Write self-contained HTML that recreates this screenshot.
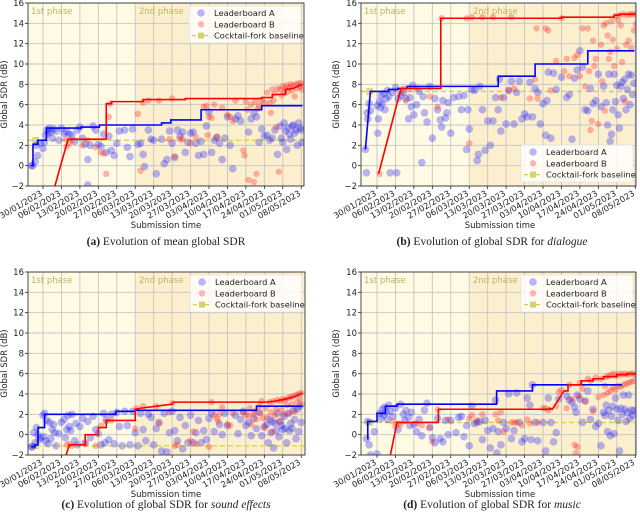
<!DOCTYPE html>
<html><head><meta charset="utf-8"><style>
body{margin:0;background:#fff;}
svg text{font-family:"DejaVu Sans","Liberation Sans",sans-serif;}
.cap{font-family:"Liberation Serif",serif;font-size:11.5px;}
</style></head><body>
<svg id="fig" width="640" height="518" viewBox="0 0 640 518" xmlns="http://www.w3.org/2000/svg"></svg>
<script>
const tickLabels=["30/01/2023","06/02/2023","13/02/2023","20/02/2023","27/02/2023","06/03/2023","13/03/2023","20/03/2023","27/03/2023","03/04/2023","10/04/2023","17/04/2023","24/04/2023","01/05/2023","08/05/2023"];
const tickDays=[0,7,14,21,28,35,42,49,56,63,70,77,84,91,98];
const yTicks=[-2,0,2,4,6,8,10,12,14,16];
const phaseBoundary=35.3;

const aBlueStep=[[-4.5,0],[-3.8,0],[-3.8,2.1],[-2,2.1],[-2,2.5],[1.3,2.5],[1.3,3.7],[14.5,3.7],[14.5,3.8],[21.4,3.8],[21.4,4.0],[45,4.0],[45,4.2],[48.5,4.2],[48.5,4.5],[60,4.5],[60,5.5],[83,5.5],[83,5.9],[98.5,5.9]];
const aRedStep=[[4.3,-2.2],[9.5,2.6],[24,2.6],[24,6.1],[26,6.1],[26,6.3],[38,6.3],[38,6.5],[54,6.5],[54,6.6],[83,6.6],[83,6.7],[87,6.7],[87,7.0],[92,7.0],[92,7.5],[95,7.6],[98.5,8.0]];
const aBlue=[[-4.3,0],[-3.9,0],[-3,0.4],[-2.5,2],[-2,1],[-1,2.2],[0,1.7],[0.5,2.3],[1,3],[1.5,3.5],[2,3.2],[2.5,3.7],[3,3.3],[3.5,2.7],[4,3.6],[5,3.4],[6,2.5],[7,3.7],[8,3.2],[9,3.3],[10,3.1],[11,3],[12,2.4],[13,3.5],[14,3.8],[15,2.7],[16,2.1],[17,0.6],[18,2],[19,3.9],[20,3.5],[21,2.1],[22,1.9],[23,3.1],[24,1.3],[25,2.9],[26,1.5],[27,1],[28,2.2],[29,3.4],[31,3.5],[32,1.8],[33,0.9],[34,3.6],[36,2.1],[37,2.2],[38,1.1],[38.5,-0.1],[40,3.5],[41,2.6],[42,2.5],[43,-0.8],[45,2.6],[46,0.2],[47,0.6],[48,3.4],[49,2.2],[50,0.8],[51,3.5],[52,2.9],[53,3.3],[54,1.3],[55,2.3],[56,3.2],[57,3.3],[58,2.2],[59,1.0],[60,2.4],[61,1.1],[62,3.9],[63,5.3],[64,1.3],[65,2.5],[66,2.8],[67,2.2],[68,0.6],[69,2.7],[70,4.8],[71,2.0],[72,-0.3],[73,4.6],[74,4.9],[75,4.4],[78,3.3],[79,4.6],[80,5.2],[81,4.8],[82,2.3],[83,3.6],[84,2.9],[85,3.0],[86,2.5],[87,2.7],[88,3.5],[89,1.1],[90,3.9],[90.5,2.7],[91,2.3],[91.5,4.2],[92,3.4],[92.5,1.6],[93,3.7],[93.5,3.1],[94,2.6],[94.5,3.9],[95,4.0],[95.5,3.2],[96,3.5],[96.5,2.0],[97,4.2],[97.5,3.7],[98,3.5],[98.3,2.3],[17,-1.9]];
const aRed=[[8.5,2.6],[9,1.9],[10,2.2],[11,2.5],[15,2.0],[17,2.5],[20,1.8],[22,1.3],[23,1.2],[24,-0.8],[25,4.8],[25.5,6.1],[36,5.1],[37,-0.5],[38,6.2],[40,6.4],[44,6.4],[48,2.6],[49,6.6],[50,0.9],[52,2.6],[53,2.6],[56,2.2],[58,2.8],[61,5.8],[62,5.9],[62.5,3],[63,4.8],[64,4.7],[65,6.0],[66,2.8],[68,5.7],[70,5.0],[71,4.8],[72,4.4],[73,6.4],[76,1.5],[76.5,1.0],[77,6.3],[77.5,5.5],[78,-1.4],[79,6.0],[80,-1.6],[80.5,6.3],[81,-0.8],[81.5,5.6],[82,5.9],[83,6.4],[84,6.2],[85,7.2],[86,6.2],[86.5,5.2],[87,7.5],[87.5,6.4],[88,7.1],[88.5,3.8],[89,7.6],[89.5,-0.6],[90,7.5],[90.5,6.9],[91,7.8],[91.5,7.2],[92,7.6],[92.5,7.9],[93,7.3],[93.5,7.7],[94,8.0],[94.5,7.4],[95,7.9],[95.5,6.8],[96,8.0],[96.5,7.6],[97,8.1],[97.5,7.8],[98,8.1],[98.3,7.5]];
const aBaseline=2.5;

const bBlueStep=[[-4.4,1.6],[-2.5,7.3],[4.4,7.3],[4.4,7.5],[8,7.5],[8,7.6],[11.4,7.6],[11.4,7.8],[46,7.8],[46,8.8],[60,8.8],[60,10.0],[80,10.0],[80,11.3],[97.7,11.3]];
const bRedStep=[[0.6,-0.8],[8.8,7.3],[9,7.6],[24.2,7.6],[24.2,14.5],[70,14.5],[70,14.6],[90,14.6],[90,14.8],[92,14.8],[92,14.9],[98,14.9]];
const bBlue=[[-4.4,1.6],[-4,-0.7],[-3.8,5.2],[-3.5,4.6],[-3,6.1],[-2.5,5.4],[0,5.9],[0.3,3.2],[0.5,4.6],[1,6.3],[1.3,5.7],[1.6,6.9],[2,6.1],[2.5,7.1],[3,5.5],[3.5,6.6],[4,7.4],[4.5,6.8],[5,-0.7],[6,7.2],[7,7.7],[7.5,-0.7],[8,6.6],[9,6.9],[10,7.2],[11,6.6],[12,4.6],[12.5,6.7],[13,5.8],[13.5,7.9],[14,5],[15,6],[16,7.3],[17,0.3],[17.5,6.8],[18,5.2],[19,4.3],[20,7.8],[21,2.7],[22,6.6],[23,5.5],[24,4.5],[24.5,3.8],[25,6.4],[26,4.7],[26.5,5.2],[27,6.2],[28,3.2],[29,6.7],[31,6.8],[32,5.5],[33,6.9],[34,1.6],[34.5,5.5],[35,3.6],[36,7.5],[37,7.4],[38,0.5],[38.5,1.1],[39,7.8],[40,5.5],[41,1.5],[42,4.4],[43,2],[44,4.4],[45,6.7],[46,5.5],[46.5,8.5],[47,3.4],[48,6.7],[49,4.1],[50,7.4],[51,8.3],[52,4.1],[53,7.2],[54,8.3],[55,4.6],[56,5.1],[57,4.8],[58,8.2],[59,4.8],[60,7.6],[61,7.2],[62,4.1],[63,6.1],[64,3],[64.5,6.4],[65,9.2],[66,2.7],[67,9.1],[68,7.5],[70,8.7],[72,6.7],[73,7.0],[74,2.6],[75,8.6],[76,9.4],[77,11.3],[78,9.7],[79,5.5],[80,5.4],[81,7.6],[82,6.1],[83,6.4],[84,9],[85,5.8],[86,7.8],[87,6.2],[87.5,4],[88,9],[88.5,2.4],[89,3.1],[89.5,5.5],[90,9],[90.5,6.3],[91,7.9],[91.5,5],[92,3.7],[92.5,7.8],[93,8.2],[93.5,6.6],[94,8.5],[94.5,5.5],[95,7.5],[95.5,9],[96,6],[96.5,8.9],[97,7],[97.5,8.1]];
const bRed=[[1,-0.8],[9,7.2],[10,7.6],[11,6.4],[12,7.5],[15,7.6],[20,6.8],[23,5.8],[24.5,14.5],[34,14.5],[35,2.2],[36,14.6],[40,14.6],[44,14.6],[47,6.7],[50,7.4],[51,14.6],[52,7.6],[58,6.6],[60,8.5],[60.5,13.5],[61,6.6],[64,13.5],[65,13.3],[66,7.4],[68,10.3],[70,14.5],[71,9.3],[72,10.5],[73,8.8],[75,10.6],[76,10.9],[77,8.8],[78,13.5],[79,7.8],[80,13.5],[80.5,9.3],[81,3.5],[81.5,4.4],[82,12.3],[82.5,9.8],[83,10.5],[84,4.1],[85,11.9],[85.5,8.3],[86,13.8],[86.5,5.4],[87,14.0],[87.5,12.8],[88,10.5],[88.5,11.2],[89,14.2],[89.5,12.4],[90,9.8],[90.5,14.7],[91,11.5],[91.5,14.3],[92,14.8],[92.5,13.8],[93,10.2],[93.5,14.9],[94,6.3],[94.5,11.9],[95,14.8],[95.5,12.3],[96,14.9],[96.5,11.6],[97,14.9],[97.5,13.3],[98,14.9],[98.2,13.9]];
const bBaseline=7.3;

const cBlueStep=[[-4.5,-1.2],[-3,-1.2],[-3,-1.0],[-1.9,-1.0],[-1.9,0.7],[0.6,0.7],[0.6,2.0],[27.7,2.0],[27.7,2.3],[35,2.3],[35,2.4],[81,2.4],[81,2.8],[98.5,2.8]];
const cRedStep=[[8.5,-2.2],[10,-1],[16,-1],[16,0],[21,0],[21,0.7],[24,0.7],[24,1.4],[35,1.4],[35,2.5],[37,2.6],[43,2.8],[49,3.0],[49.5,3.2],[85,3.2],[88,3.3],[92,3.5],[95,3.7],[98.5,4.1]];
const cBlue=[[-4.5,-1.2],[-4,-1.2],[-3.5,0.2],[-3,-0.8],[-2.5,0.7],[-2,0],[-1.5,-0.5],[-1,-0.3],[0,1.9],[0.3,-0.2],[0.6,2.1],[1,-0.6],[1.5,1.4],[2,-0.9],[2.5,1.2],[3,-0.4],[3.5,0.5],[4,1],[4.5,0.2],[5,-1.1],[6,0.1],[7,1.2],[8,1.5],[8.5,-0.3],[9,0.5],[9.5,1.9],[10,0.8],[10.5,0.4],[11,2],[12,-0.6],[12.5,1.1],[13,-1],[14,0.8],[15,1.6],[16,-0.8],[17,1.3],[18,-0.3],[19,1.8],[20,0.5],[21,0.1],[22,-1.0],[23,2.1],[23.5,-0.8],[24,1.5],[25,-0.5],[26,2.0],[27,-0.9],[28,2.2],[29,0.8],[30,-1.1],[31,2.3],[32,0.9],[33,-1.0],[34,2.3],[35,0.2],[36,-1.1],[37,2.1],[38,0.5],[39,-0.6],[40,2.0],[41,1.7],[42,-1.0],[43,0.6],[44,1.2],[45,-1.6],[46,2.1],[47,-1.7],[48,0.2],[49,2.3],[50,0.4],[51,-0.6],[52,1.7],[53,-1.4],[54,0.9],[55,-0.8],[56,1.9],[57,-0.8],[58,0.2],[59,1.4],[60,-0.8],[61,0.4],[62,-0.5],[63,1.6],[64,2.1],[65,0.3],[67,1.0],[68,0.0],[69,2.1],[70,0.9],[73,1.9],[74,0.1],[75,1.5],[76,2.3],[77,0.9],[78,1.2],[79,-0.1],[80,1.6],[81,0.6],[82,2.2],[83,-0.1],[84,0.8],[85,1.0],[85.5,-0.8],[86,1.5],[86.5,0.2],[87,1.3],[87.5,-1.3],[88,1.1],[88.5,0.4],[89,2.1],[89.5,-0.2],[90,1.3],[90.5,0.9],[91,0.5],[91.5,1.8],[92,0.6],[92.5,-0.8],[93,2.1],[93.5,0.4],[94,1.1],[94.5,0.6],[95,2.4],[95.5,1.5],[96,-0.4],[96.5,2.5],[97,0.3],[97.5,2.8],[98,1.2]];
const cRed=[[9,-1],[10,-0.9],[11,-1.1],[16,-0.9],[20,-1.1],[22,0.9],[24,1.3],[26,1.4],[35,0.6],[35.5,2.6],[38,2.8],[43,2.8],[44,1.1],[48,2.2],[49,3.1],[50,-1.1],[51,-1],[56,-0.6],[57,0.3],[58,-0.9],[63,-1.2],[64,3.2],[65,1.9],[66,1.6],[66.5,1.3],[67,2.0],[68,2.7],[70,1.0],[71,0.9],[72,2.1],[76,2.2],[77,1.9],[78,1.9],[78.5,2.6],[79,1.0],[80,2.0],[80.5,2.3],[81,1.5],[82,2.8],[82.5,2.1],[83,3.3],[83.5,1.6],[84,0.7],[84.5,2.6],[85,1.7],[86,3.2],[86.5,2.2],[87,0.3],[87.5,3.3],[88,1.9],[88.5,2.5],[89,3.4],[89.5,1.3],[90,3.3],[90.5,2.4],[91,3.5],[91.5,2.0],[92,3.4],[92.5,2.9],[93,3.6],[93.5,2.1],[94,3.7],[94.5,3.0],[95,3.8],[95.5,2.3],[96,3.9],[96.5,3.2],[97,4.0],[97.5,3.5],[98,4.1],[98.3,3.0]];
const cBaseline=-1.1;

const dBlueStep=[[-3.8,-0.4],[-3.5,-0.4],[-3.5,1.3],[0,1.3],[0,2.1],[3.2,2.1],[3.2,2.8],[7.6,2.8],[7.6,3.0],[45.4,3.0],[45.4,4.3],[59,4.3],[59,4.9],[93,4.9]];
const dRedStep=[[5,-2.1],[7.6,1.2],[23.3,1.2],[23.3,2.5],[65.6,2.5],[65.6,2.6],[66.5,2.5],[71,4.3],[72.5,4.3],[72.5,4.9],[77.5,4.9],[77.5,5.3],[82,5.3],[82,5.5],[86,5.5],[86,5.7],[91,5.7],[91,5.9],[95,5.9],[95,6.0],[98.5,6.0]];
const dBlue=[[-4,-0.4],[-3.5,1.3],[-3,-1],[-2.5,-2],[-1,0.3],[0,-1.9],[1,2.1],[1.5,1.6],[2,2.5],[2.5,1.9],[3,2.7],[3.5,2.2],[4,1.5],[4.5,2.9],[5,2.3],[6,1.8],[7,2.6],[8,0.5],[9,3.0],[10,2.0],[10.5,1.4],[11,2.4],[12,1.7],[12.5,0.9],[13,2.2],[14,1.0],[15,0.3],[16,1.5],[17,-0.1],[18,2.4],[19,3.1],[20,0.7],[21,-0.3],[22,-0.8],[23,1.6],[24,-0.4],[25,-0.7],[26,1.4],[27,0],[28,1.4],[30,0.2],[31,1.7],[32,1.8],[33,-0.2],[34,0.9],[35,-1.1],[36,2.8],[37,1.1],[38,1.2],[39,1.3],[40,-0.5],[41,1.4],[42,0.4],[43,-1.3],[44,0.6],[45,3.4],[45.5,-1.8],[46,0.3],[47,-1.0],[48,1.2],[49,0.6],[50,4.0],[51,-0.4],[52,0.4],[53,4.1],[54,1.2],[55,-0.7],[56,-0.4],[57,3.6],[58,2.9],[58.5,-0.5],[59,4.9],[60,1.2],[61,-0.6],[63,1.2],[64,-1.6],[65,3.6],[66,1.2],[67,-0.7],[68,0.2],[69,3.5],[72,3.8],[73,3.4],[74,3.2],[75,2.7],[75.5,2.2],[76,3.9],[77,3.5],[78,1.2],[79,3.3],[80,4.3],[81,1.5],[82,2.5],[83,0.8],[84,1.1],[85,-1.1],[86,2.2],[86.5,1.9],[87,2.9],[87.5,0.3],[88,2.4],[88.5,-0.1],[89,1.8],[89.5,2.8],[90,0.1],[90.5,3.6],[91,2.5],[91.5,1.4],[92,-1.6],[92.5,2.6],[93,2.0],[93.5,3.9],[94,2.5],[94.5,1.3],[95,2.2],[95.5,3.9],[96,1.6],[96.5,2.4],[97,1.9],[97.5,2.4]];
const dRed=[[6,1.3],[7,0.8],[8,1.1],[9,1.0],[15,1.1],[17,0.9],[20,0.7],[21,-0.7],[23,2.5],[27,1.5],[35,1.6],[36,1.9],[38,1.4],[40,2.0],[45,2.0],[46,1.4],[47,2.2],[48,0.3],[51,1.2],[52,1.2],[53,1.2],[55,0.9],[57,1.5],[58,1.1],[61,1.2],[63,2.6],[64,2.6],[65,2.4],[68,2.8],[69,4.2],[70,4.4],[72,2.6],[73,4.9],[74,3.5],[75,-1.0],[75.5,-1.8],[76,-1.2],[76.5,3.8],[77,5.1],[78,4.5],[79,3.3],[80,5.5],[81,5.3],[82,2.3],[83,5.6],[84,3.7],[85,5.5],[86,3.9],[86.5,4.8],[87,5.7],[87.5,4.1],[88,5.8],[88.5,4.3],[89,5.9],[89.5,4.6],[90,6.0],[90.5,4.4],[91,5.8],[91.5,4.8],[92,6.0],[92.5,4.7],[93,5.9],[93.5,4.9],[94,6.0],[94.5,5.0],[95,5.9],[95.5,5.1],[96,6.0],[96.5,5.2],[97,6.0],[97.5,5.3],[98,5.9]];
const dBaseline=1.2;

const NS="http://www.w3.org/2000/svg";
const svg=document.getElementById('fig');
function mk(tag,attrs,parent){const e=document.createElementNS(NS,tag);for(const k in attrs)e.setAttribute(k,attrs[k]);(parent||svg).appendChild(e);return e;}

const panels=[
 {id:'a',L:28,R:304,T:3,B:186,d0:43,blue:aBlue,red:aRed,bs:aBlueStep,rs:aRedStep,base:aBaseline,leg:'top',cap:['(a)',' Evolution of mean global SDR',''],cx:166,cy:245,xl:166,xly:228,yl:7},
 {id:'b',L:361,R:636,T:3,B:186,d0:377,blue:bBlue,red:bRed,bs:bBlueStep,rs:bRedStep,base:bBaseline,leg:'bottom',cap:['(b)',' Evolution of global SDR for ','dialogue'],cx:492,cy:245,xl:500,xly:228,yl:339},
 {id:'c',L:28,R:305,T:272,B:455,d0:43,blue:cBlue,red:cRed,bs:cBlueStep,rs:cRedStep,base:cBaseline,leg:'top',cap:['(c)',' Evolution of global SDR for ','sound effects'],cx:166,cy:508,xl:166,xly:497,yl:7},
 {id:'d',L:361,R:636,T:272,B:455,d0:377,blue:dBlue,red:dRed,bs:dBlueStep,rs:dRedStep,base:dBaseline,leg:'top',cap:['(d)',' Evolution of global SDR for ','music'],cx:492,cy:508,xl:500,xly:497,yl:339}
];

panels.forEach(p=>{
 const pxd=2.635;
 const X=d=>p.d0+d*pxd;
 const Y=v=>p.B-(v+2)/18*(p.B-p.T);
 const g=mk('g',{});
 
 
 const cp=mk('clipPath',{id:'clip'+p.id},g);
 mk('rect',{x:p.L,y:p.T,width:p.R-p.L,height:p.B-p.T},cp);
 const xb=Math.min(Math.max(X(phaseBoundary),p.L),p.R);
 const ph1=mk('rect',{x:p.L,y:p.T,width:xb-p.L,height:p.B-p.T,fill:'#fffae3'},g);
 
 
 const ph2=mk('rect',{x:xb,y:p.T,width:p.R-xb,height:p.B-p.T,fill:'#fcefcd'},g);
 
 
 // grid
 yTicks.forEach(v=>{mk('line',{x1:p.L,x2:p.R,y1:Y(v),y2:Y(v),stroke:'#c4c4c4','stroke-width':0.9},g);
  const t=mk('text',{x:p.L-4,y:Y(v)+3,'text-anchor':'end','font-size':8.5,fill:'#222'},g);t.textContent=(v<0?'\u2212'+(-v):v);
  
  
  mk('line',{x1:p.L-3,x2:p.L,y1:Y(v),y2:Y(v),stroke:'#222','stroke-width':0.8},g);});
 tickDays.forEach((d,i)=>{const x=X(d);mk('line',{x1:x,x2:x,y1:p.T,y2:p.B,stroke:'#c4c4c4','stroke-width':0.9},g);
  mk('line',{x1:x,x2:x,y1:p.B,y2:p.B+3,stroke:'#222','stroke-width':0.8},g);
  const t=mk('text',{x:x,y:p.B+9,'text-anchor':'end','font-size':8.3,fill:'#222',transform:`rotate(-30 ${x} ${p.B+9})`},g);t.textContent=tickLabels[i];
  
  });
 const t1=mk('text',{x:p.L+3,y:p.T+11,'font-size':8.5,fill:'#bdb36a'},g);t1.textContent='1st phase';
 
 
 const t2=mk('text',{x:xb+3,y:p.T+11,'font-size':8.5,fill:'#bdb36a'},g);t2.textContent='2nd phase';
 
 
 const cg=mk('g',{'clip-path':`url(#clip${p.id})`},g);
 // baseline
 const bl=mk('line',{x1:p.L,x2:p.R,y1:Y(p.base),y2:Y(p.base),stroke:'#d6d040','stroke-width':1.3,'stroke-dasharray':'5,3'},cg);
 
 
 const bm=mk('rect',{x:X(-2.8)-3,y:Y(p.base)-3,width:6,height:6,fill:'#d6d070',stroke:'#c8c040','stroke-width':0.5,opacity:0.8},cg);
 
 
 p.blue.forEach(([d,v])=>{const c=mk('circle',{cx:X(d),cy:Y(v),r:3.8,fill:'rgba(20,20,255,0.3)'},cg);
  
  });
 p.red.forEach(([d,v])=>{const c=mk('circle',{cx:X(d),cy:Y(v),r:3.2,fill:'rgba(255,30,30,0.32)'},cg);
  
  });
 const lb=mk('polyline',{points:p.bs.map(([d,v])=>X(d)+','+Y(v)).join(' '),fill:'none',stroke:'#0000ff','stroke-width':1.6},cg);
 
 
 const lr=mk('polyline',{points:p.rs.map(([d,v])=>X(d)+','+Y(v)).join(' '),fill:'none',stroke:'#ff0000','stroke-width':1.6},cg);
 
 
 mk('rect',{x:p.L,y:p.T,width:p.R-p.L,height:p.B-p.T,fill:'none',stroke:'#222','stroke-width':0.8},g);
 // legend
 const lw=112,lh=37,lx=p.R-lw-3,ly=p.leg==='top'?p.T+3:p.B-lh-4;
 const lg=mk('g',{},g);
 
 
 mk('rect',{x:lx,y:ly,width:lw,height:lh,rx:2,fill:'rgba(255,255,255,0.8)',stroke:'#ddd','stroke-width':0.6},lg);
 const names=['Leaderboard A','Leaderboard B','Cocktail-fork baseline'];
 names.forEach((n,i)=>{const yy=ly+7+i*11.3;
  if(i===0)mk('circle',{cx:lx+12,cy:yy,r:3.8,fill:'rgba(20,20,255,0.3)'},lg);
  if(i===1)mk('circle',{cx:lx+12,cy:yy,r:3.2,fill:'rgba(255,30,30,0.32)'},lg);
  if(i===2){mk('line',{x1:lx+3,x2:lx+21,y1:yy,y2:yy,stroke:'#d6d040','stroke-width':1.3,'stroke-dasharray':'4,2'},lg);mk('rect',{x:lx+9,y:yy-3,width:6,height:6,fill:'#d6d070'},lg);}
  const t=mk('text',{x:lx+25,y:yy+3,'font-size':8.3,fill:'#222'},lg);t.textContent=n;
  
  });
 const xt=mk('text',{x:p.xl,y:p.xly,'text-anchor':'middle','font-size':8.5,fill:'#222'},g);xt.textContent='Submission time';
 
 
 const ym=(p.T+p.B)/2;
 const yt=mk('text',{x:p.yl,y:ym,'text-anchor':'middle','font-size':8.5,fill:'#222',transform:`rotate(-90 ${p.yl} ${ym})`},g);yt.textContent='Global SDR (dB)';
 
 
 const ct=mk('text',{x:p.cx,y:p.cy,'text-anchor':'middle',class:'cap',fill:'#222'},g);
 
 
 const s1=mk('tspan',{'font-weight':'bold'},ct);s1.textContent=p.cap[0];
 const s2=mk('tspan',{},ct);s2.textContent=p.cap[1];
 if(p.cap[2]){const s3=mk('tspan',{'font-style':'italic'},ct);s3.textContent=p.cap[2];}
});
</script>
</body></html>
